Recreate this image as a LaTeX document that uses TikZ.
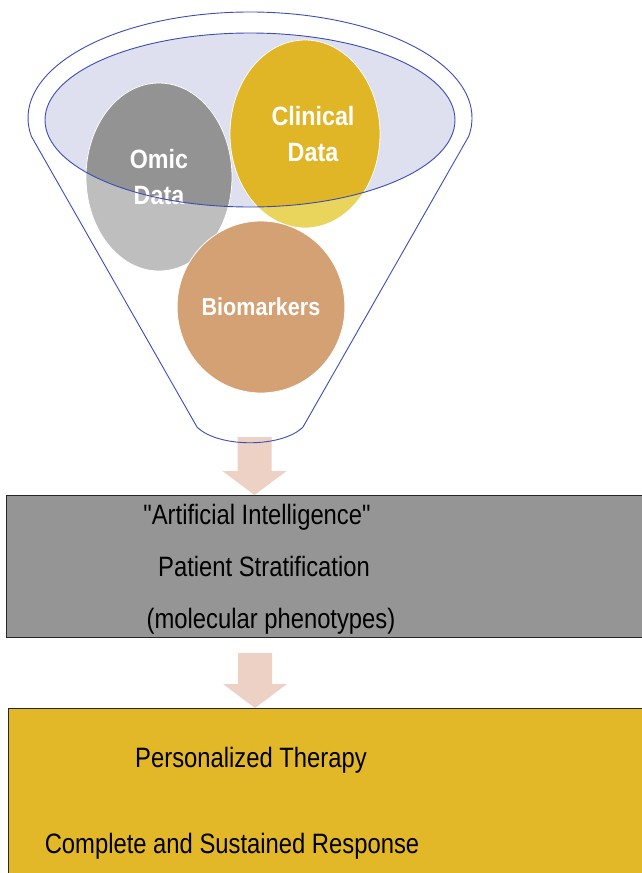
\documentclass[tikz,border=0pt]{standalone}
\usepackage{fontspec}
\setmainfont{Liberation Sans}[FakeStretch=0.88]
\newfontfamily\boxfont{Liberation Sans}[FakeStretch=0.85]
\usepackage{xcolor}
\usetikzlibrary{shapes.geometric,positioning,calc}

\definecolor{funnelblue}{HTML}{3B4CB8}
\definecolor{rimfill}{HTML}{DEDFEF}
\definecolor{omicdark}{HTML}{939393}
\definecolor{omiclight}{HTML}{BEBEBE}
\definecolor{clinicdark}{HTML}{E0B526}
\definecolor{cliniclight}{HTML}{E9D45C}
\definecolor{biotan}{HTML}{D4A174}
\definecolor{arrowpink}{HTML}{EDD1C4}
\definecolor{stratgray}{HTML}{959595}
\definecolor{therapygold}{HTML}{E2B829}

\tikzset{
  funnel/.style={draw=funnelblue, line width=0.9pt},
  blob/.style={ellipse, draw=white, line width=0.8pt, inner sep=0pt, text=white,
    align=center, font=\bfseries\fontsize{26.5}{36}\selectfont},
  panel/.style={draw=black!85, line width=1.2pt, anchor=north west, minimum width=660pt},
  boxtext/.style={align=center, font=\boxfont\fontsize{28}{52}\selectfont}
}

\newcommand\blockarrow[2]{%
  \fill[arrowpink] ($(#1)+(-17,0)$) -- ($(#2)+(-17,-24)$) -- ($(#2)+(-32,-24)$) -- (#2)
    -- ($(#2)+(32,-24)$) -- ($(#2)+(17,-24)$) -- ($(#1)+(17,0)$) -- cycle;}

\begin{document}
\begin{tikzpicture}[x=1pt,y=-1pt]
    \useasboundingbox (0,0) rectangle (641,873);

    % Boxes
    \node[panel, fill=stratgray, minimum height=142pt] (strat) at (6,495) {};
    \node[panel, fill=therapygold, minimum height=180pt] (therapy) at (8,708) {};
    \node[boxtext] (stratlabel) at (264,569)
        {"Artificial Intelligence"\hspace*{14pt}\\Patient Stratification\\\hspace*{14pt}(molecular phenotypes)};
    \node[boxtext] (therapylabel) at (251,760) {Personalized Therapy};
    \node[boxtext] (responselabel) at (232,846) {Complete and Sustained Response};

    % Arrows
    \coordinate (neck) at (254.5,437);
    \coordinate (drop) at (255,653);
    \coordinate (tip1) at (neck |- strat.north);
    \coordinate (tip2) at (drop |- therapy.north);
    \blockarrow{neck}{tip1}
    \blockarrow{drop}{tip2}

    % Funnel
    \coordinate (rim) at (250,120);
    \draw[funnel] (31.4,136.4) arc[start angle=170, end angle=370, x radius=222, y radius=106]
        -- (303,427) .. controls (282,448) and (218,448) .. (197,427) -- cycle;
    \fill[rimfill] (rim) ellipse [x radius=205, y radius=87];

    % Data sources
    \node[blob, fill=omiclight, minimum width=146pt, minimum height=188pt,
        path picture={\fill[omicdark] (rim) ellipse [x radius=205pt, y radius=87pt];}]
        (omic) at (159,177) {Omic\\Data};
    \node[blob, fill=cliniclight, minimum width=150pt, minimum height=188pt,
        path picture={\fill[clinicdark] (rim) ellipse [x radius=205pt, y radius=87pt];}]
        (clinic) at (305,134) {\hspace*{16pt}Clinical\\\hspace*{16pt}Data};
    \node[blob, fill=biotan, minimum width=140pt, minimum height=172pt,
        font=\bfseries\fontsize{24.5}{30}\selectfont] (bio) at (261,307) {Biomarkers};

    \draw[funnel] (rim) ellipse [x radius=205, y radius=87];
\end{tikzpicture}
\end{document}
